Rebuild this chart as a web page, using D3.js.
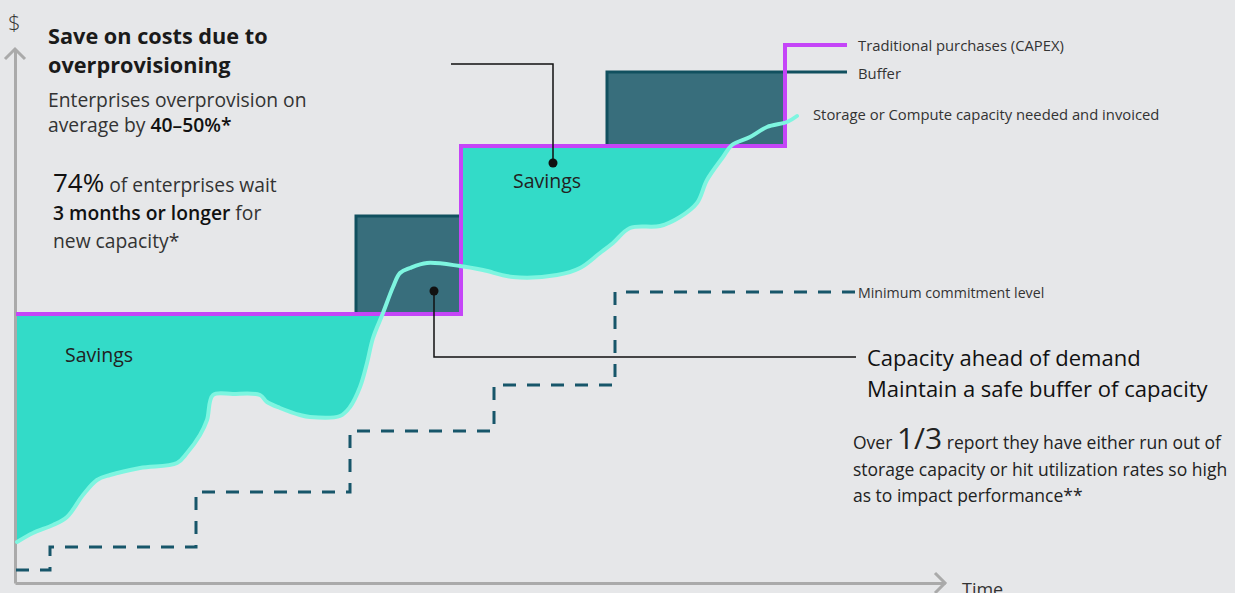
<!DOCTYPE html>
<html>
<head>
<meta charset="utf-8">
<script src="https://cdn.jsdelivr.net/npm/d3@7"></script>
<style>
  body { margin: 0; background: #e6e7e9; }
  svg { display: block; font-family: "Open Sans", Lato, sans-serif; }
</style>
</head>
<body>
<div id="chart"></div>
<script>
// values, in chart units (time from origin, $ from origin)
const capexT = [1, 446, 770, 832];
const capexV = [269, 437, 538, 538];

const bufferStart = [341, 592];
const bufferEnd = [446, 770];
const bufferTop = [367, 511];
const bufferBase = [269, 437];

const minT = [1, 35, 181, 335, 479, 600, 840];
const minV = [13, 36, 91, 152, 198, 291, 291];

const demandT = [2, 18, 38, 52, 68, 82, 95, 125, 162, 172, 185, 192, 198, 218, 245, 252, 265, 285, 295, 325, 335, 345, 352, 358, 368, 378, 385, 395, 412, 445, 468, 498, 542, 565, 585, 598, 615, 645, 665, 682, 692, 708, 717, 735, 752, 772, 782];
const demandV = [41, 50, 58, 66, 88, 103, 108, 115, 120, 130, 148, 163, 188, 189, 188, 181, 175, 168, 166, 167, 176, 196, 220, 245, 270, 296, 310, 315, 320, 317, 313, 306, 308, 315, 330, 340, 355, 357, 366, 380, 403, 426, 438, 446, 456, 461, 467];

const width = 1235;
const height = 593;

const x = d3.scaleLinear().domain([0, 930]).range([15, 945]);
const y = d3.scaleLinear().domain([0, 534]).range([583, 49]);

const capex = capexT.map((t, i) => ({t: t, v: capexV[i]}));
const minimum = minT.map((t, i) => ({t: t, v: minV[i]}));
const demand = demandT.map((t, i) => ({t: t, v: demandV[i]}));

const svg = d3.select('#chart').append('svg')
    .attr('width', width).attr('height', height);

// buffer boxes
svg.append('g').selectAll('rect').data(bufferStart).enter().append('rect')
    .attr('x', (d, i) => x(d))
    .attr('y', (d, i) => y(bufferTop[i]))
    .attr('width', (d, i) => x(bufferEnd[i]) - x(d))
    .attr('height', (d, i) => y(bufferBase[i]) - y(bufferTop[i]))
    .attr('fill', '#386e7c')
    .attr('stroke', '#11505f')
    .attr('stroke-width', 3);

// legend tail of buffer line
svg.append('line')
    .attr('x1', x(bufferEnd[1])).attr('x2', x(capexT[3]))
    .attr('y1', y(bufferTop[1])).attr('y2', y(bufferTop[1]))
    .attr('stroke', '#11505f').attr('stroke-width', 3);

// savings = region between capex line and demand curve
const clipData = capex.slice(0, 2).concat([{t: capexT[2], v: capexV[1]}]);
svg.append('clipPath').attr('id', 'underCapex')
    .append('path')
    .attr('d', d3.area()
        .x(d => x(d.t))
        .y0(y(0))
        .y1(d => y(d.v))
        .curve(d3.curveStepAfter)(clipData));

svg.append('path')
    .attr('clip-path', 'url(#underCapex)')
    .attr('fill', '#33dbc8')
    .attr('d', d3.area()
        .x(d => x(d.t))
        .y0(d => y(d.v))
        .y1(y(600))
        .curve(d3.curveCatmullRom)(demand));

// axes
const xAxis = g => g
    .attr('transform', `translate(0, ${y(0)})`)
    .call(d3.axisBottom(x).ticks(0).tickSizeOuter(0))
    .call(g => g.select('.domain').attr('stroke', '#aaaaaa').attr('stroke-width', 3));
const yAxis = g => g
    .attr('transform', `translate(${x(0)}, 0)`)
    .call(d3.axisLeft(y).ticks(0).tickSizeOuter(0))
    .call(g => g.select('.domain').attr('stroke', '#aaaaaa').attr('stroke-width', 3));
svg.append('g').call(xAxis);
svg.append('g').call(yAxis);

svg.append('path')
    .attr('d', `M${x(930) - 10},${y(0) - 10}L${x(930)},${y(0)}L${x(930) - 10},${y(0) + 10}`
        + `M${x(0) - 10},${y(534) + 10}L${x(0)},${y(534)}L${x(0) + 10},${y(534) + 10}`)
    .attr('fill', 'none').attr('stroke', '#aaaaaa').attr('stroke-width', 3);

svg.append('text').attr('x', 8).attr('y', 30)
    .attr('font-size', 22).attr('font-weight', 300).attr('fill', '#333').text('$');
svg.append('text').attr('x', 962).attr('y', 596)
    .attr('font-size', 18).attr('fill', '#333').text('Time');

// minimum commitment
svg.append('path')
    .attr('fill', 'none')
    .attr('stroke', '#17566a')
    .attr('stroke-width', 3)
    .attr('stroke-dasharray', '13,11')
    .attr('d', d3.line().x(d => x(d.t)).y(d => y(d.v)).curve(d3.curveStepAfter)(minimum));

// traditional purchases
svg.append('path')
    .attr('fill', 'none')
    .attr('stroke', '#c545f8')
    .attr('stroke-width', 4)
    .attr('d', d3.line().x(d => x(d.t)).y(d => y(d.v)).curve(d3.curveStepAfter)(capex));

// demand curve
svg.append('path')
    .attr('fill', 'none')
    .attr('stroke', '#7ef5e0')
    .attr('stroke-width', 4)
    .attr('stroke-linecap', 'round')
    .attr('d', d3.line().x(d => x(d.t)).y(d => y(d.v)).curve(d3.curveCatmullRom)(demand));

// callouts
const callout = svg.append('g').attr('stroke', '#111').attr('stroke-width', 1.5).attr('fill', 'none');
callout.append('path').attr('d', 'M451,64H553V163');
callout.append('path').attr('d', 'M434,291V357H856');
svg.append('circle').attr('cx', 553).attr('cy', 163).attr('r', 4.5).attr('fill', '#111');
svg.append('circle').attr('cx', 434).attr('cy', 291).attr('r', 4.5).attr('fill', '#111');

// legend labels
const legend = svg.append('g').attr('font-size', 14.8).attr('fill', '#333');
legend.append('text').attr('x', 858).attr('y', 51).text('Traditional purchases (CAPEX)');
legend.append('text').attr('x', 858).attr('y', 79).text('Buffer');
legend.append('text').attr('x', 813).attr('y', 120).text('Storage or Compute capacity needed and invoiced');
legend.append('text').attr('x', 858).attr('y', 298).attr('font-size', 14.2).text('Minimum commitment level');

svg.append('text').attr('x', 65).attr('y', 362).attr('font-size', 19.5).attr('fill', '#222').text('Savings');
svg.append('text').attr('x', 513).attr('y', 188).attr('font-size', 19.5).attr('fill', '#222').text('Savings');

// left notes
svg.append('text').attr('x', 48).attr('y', 44).attr('font-size', 21.7).attr('font-weight', 700).attr('fill', '#1a1a1a').text('Save on costs due to');
svg.append('text').attr('x', 48).attr('y', 73).attr('font-size', 21.7).attr('font-weight', 700).attr('fill', '#1a1a1a').text('overprovisioning');

const note1 = svg.append('g').attr('font-size', 19.3).attr('fill', '#333');
note1.append('text').attr('x', 48).attr('y', 107).text('Enterprises overprovision on');
const n1 = note1.append('text').attr('x', 48).attr('y', 132);
n1.append('tspan').text('average by ');
n1.append('tspan').attr('font-weight', 600).attr('fill', '#111').text('40–50%*');

const note2 = svg.append('g').attr('font-size', 19.3).attr('fill', '#333');
const n2 = note2.append('text').attr('x', 53).attr('y', 192);
n2.append('tspan').attr('font-size', 26).attr('fill', '#111').text('74%');
n2.append('tspan').text(' of enterprises wait');
const n3 = note2.append('text').attr('x', 53).attr('y', 220);
n3.append('tspan').attr('font-weight', 600).attr('fill', '#111').text('3 months or longer');
n3.append('tspan').text(' for');
note2.append('text').attr('x', 53).attr('y', 248).text('new capacity*');

// right notes
const note3 = svg.append('g').attr('font-size', 22).attr('fill', '#111');
note3.append('text').attr('x', 867).attr('y', 366).text('Capacity ahead of demand');
note3.append('text').attr('x', 867).attr('y', 397).text('Maintain a safe buffer of capacity');

const note4 = svg.append('g').attr('font-size', 17.5).attr('fill', '#222');
const n4 = note4.append('text').attr('x', 853).attr('y', 449);
n4.append('tspan').text('Over ');
n4.append('tspan').attr('font-size', 30).text('1/3');
n4.append('tspan').text(' report they have either run out of');
note4.append('text').attr('x', 853).attr('y', 476).text('storage capacity or hit utilization rates so high');
note4.append('text').attr('x', 853).attr('y', 502).text('as to impact performance**');
</script>
</body>
</html>
